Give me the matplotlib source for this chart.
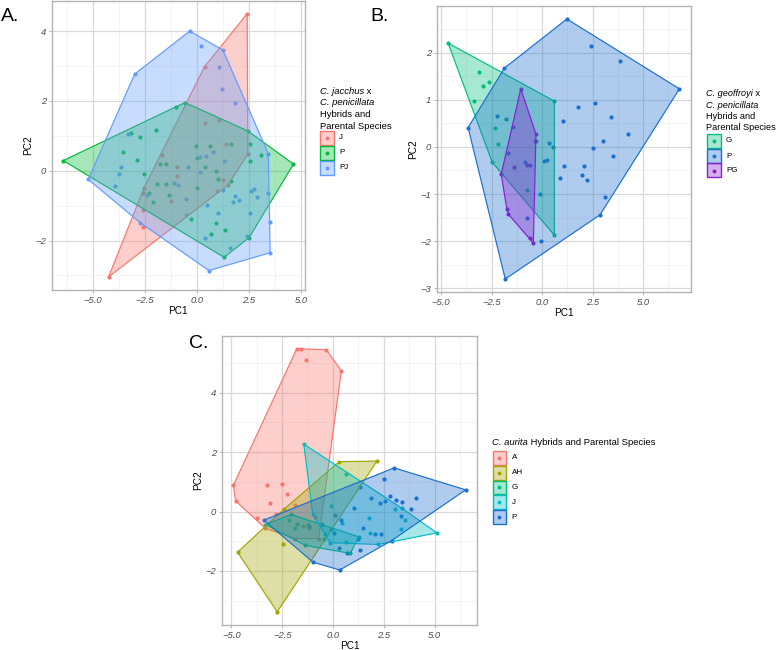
import numpy as np
import matplotlib
matplotlib.use('Agg')
import matplotlib.pyplot as plt
from matplotlib.patches import Polygon, Rectangle
from matplotlib.lines import Line2D
from matplotlib.ticker import FixedLocator, AutoMinorLocator
from matplotlib.colors import to_rgba

plt.rcParams['font.family'] = ['Liberation Sans', 'DejaVu Sans']

# ---------------- Panel A data: C. jacchus x C. penicillata ----------------
a_groups = ["J", "P", "PJ"]
a_colors = ["#F8766D", "#00BA38", "#619CFF"]
a_J_x = [2.42, 0.37, 0.41, 1.07, 1.38, 2.45, 1.25, 1.49, 0.96, -4.23, -2.53, -2.58, -2.57, -2.6, -1.65, -0.96, -0.95, -1.25]
a_J_y = [4.5, 2.98, 1.36, 1.46, 0.77, 0.47, -0.26, -0.41, -0.57, -3.04, -0.49, -0.64, -1.13, -1.62, 0.44, 0.12, -0.14, -0.86]
a_P_x = [-6.41, -1.01, -0.56, -3.17, -2.71, -1.94, -3.56, -2.86, -2.55, -2.31, -2.1, -1.76, -1.48, -1.92, -1.49, -1.33,
         -0.05, 0.64, 0.01, 0.37, 0.94, 1.01, 0.0, -0.26, 0.94, 0.67, 1.36, 1.31, 2.51, 1.63, 2.56, 2.55, 3.08, 4.64, 2.45, 1.62]
a_P_y = [0.29, 1.83, 1.95, 1.08, 0.97, 1.18, 0.53, 0.31, -0.1, -0.64, -0.9, 0.18, 0.18, -0.37, -0.37, -0.69,
         0.71, 0.71, 0.37, 0.1, -0.02, -0.23, -0.49, -1.39, -1.51, -1.81, -1.71, -2.48, -1.92, 0.78, 0.76, 0.29, 0.46, 0.19, 1.14, -0.3]
a_PJ_x = [-0.34, 0.19, 1.25, 1.07, 1.23, 1.81, -2.98, -5.21, -3.29, -3.64, -3.72, -3.93, -2.4, -2.71, -1.09, -0.88, -0.43,
          0.16, 0.43, 0.78, 0.14, 1.3, 1.26, -0.5, -0.51, 0.51, 1.01, 0.41, 1.57, 0.58, 1.75, 1.81, 2.02, 2.42, 2.55, 2.61,
          2.75, 2.87, 3.43, 3.43, 3.49, 3.52]
a_PJ_y = [4.0, 3.58, 3.46, 2.96, 2.34, 1.94, 2.77, -0.25, 1.05, 0.12, -0.09, -0.43, -0.7, -1.49, -0.35, -0.4, 0.11,
          0.39, 0.43, 0.55, -0.05, 0.28, -0.54, -0.8, -1.26, -0.98, -1.21, -1.94, -2.2, -2.86, -0.89, -0.73, -0.83, -1.88, -1.22, -0.58,
          -0.52, -0.75, 0.49, -0.63, -1.46, -2.35]
a_xticks = [-5.0, -2.5, 0.0, 2.5, 5.0]
a_xticklabels = ["\u22125.0", "\u22122.5", "0.0", "2.5", "5.0"]
a_yticks = [-2, 0, 2, 4]
a_yticklabels = ["\u22122", "0", "2", "4"]

# ---------------- Panel B data: C. geoffroyi x C. penicillata ----------------
b_groups = ["G", "P", "PG"]
b_colors = ["#00BF7D", "#1A6FD0", "#8A1ECF"]
b_G_x = [-4.65, -3.12, -2.92, -2.63, -3.38, -2.33, -2.18, -2.46, 0.61, 0.61, -0.75]
b_G_y = [2.2, 1.59, 1.3, 1.37, 0.97, 0.41, 0.06, -0.33, 0.97, -1.87, -0.92]
b_P_x = [1.23, 2.43, 3.84, 6.8, 1.79, 2.64, 1.05, 3.4, 4.24, 3.0, 2.51, 3.51, 1.08, 2.07, 1.96, 2.25, 0.89, 3.14, 2.87,
         -1.86, -3.66, -1.82, -2.25, -1.76, -1.44, -1.67, -0.82, -0.59, -0.33, 0.34, 0.53, 0.11, 0.23, -0.1, -0.75, -0.06]
b_P_y = [2.71, 2.13, 1.83, 1.23, 0.84, 0.93, 0.55, 0.63, 0.28, 0.13, -0.03, -0.2, -0.41, -0.41, -0.6, -0.7, -0.67, -1.06, -1.44,
         1.67, 0.41, -2.8, 0.66, 0.6, 0.42, -0.14, -0.33, -0.38, 0.12, 0.08, -0.01, -0.3, -0.27, -0.99, -1.51, -1.99]
b_PG_x = [-1.05, -0.3, -0.31, -2.02, -1.74, -1.66, -0.59, -0.43, -1.38, -0.72]
b_PG_y = [1.23, 0.27, 0.12, -0.58, -1.32, -1.43, -1.94, -2.04, -0.43, -0.39]
b_xticks = [-5.0, -2.5, 0.0, 2.5, 5.0]
b_xticklabels = ["\u22125.0", "\u22122.5", "0.0", "2.5", "5.0"]
b_yticks = [-3, -2, -1, 0, 1, 2]
b_yticklabels = ["\u22123", "\u22122", "\u22121", "0", "1", "2"]

# ---------------- Panel C data: C. aurita hybrids ----------------
c_groups = ["A", "AH", "G", "J", "P"]
c_colors = ["#F8766D", "#A3A500", "#00BF7D", "#00BFC4", "#1A6FD0"]
c_A_x = [-1.79, -1.57, -0.33, 0.41, -1.33, -4.91, -4.8, -3.23, -2.51, -2.29, -3.08, -3.73, -1.89, -2.8, -3.33, -1.85, -0.71]
c_A_y = [5.48, 5.48, 5.45, 4.74, 5.11, 0.88, 0.36, 0.91, 0.93, 0.58, 0.3, -0.22, 0.22, -0.1, -0.57, -0.91, -0.91]
c_AH_x = [0.31, 2.16, -2.75, -4.7, -2.43, -2.48, -1.5, -0.9]
c_AH_y = [1.68, 1.7, -3.38, -1.37, 0.07, -1.11, -0.5, -0.2]
c_G_x = [-3.33, -2.06, 1.26, 0.85, -1.36, -2.18, -1.77, -1.85, -1.23, -1.19, -0.38, -0.43]
c_G_y = [-0.44, -0.1, -0.85, -1.41, -1.14, -0.27, -0.41, -0.55, -0.44, -0.56, -0.77, -0.94]
c_J_x = [-1.44, 5.11, 2.21, -0.13, -1.0, 0.65, 3.03, 3.39, 3.34, 3.55, 1.78, 1.83, 0.46, -0.08, -0.53, 0.62]
c_J_y = [2.27, -0.72, -1.11, -1.05, -0.1, 1.27, 0.1, 0.11, -0.6, -0.3, -0.22, -0.74, -0.4, 0.2, -0.44, -1.03]
c_P_x = [-3.41, 3.01, 6.53, 0.33, -0.98, 2.88, 2.49, 2.82, 3.09, 3.39, 4.09, 3.85, 2.54, 2.32, 1.85, 1.03, 1.34, 3.34,
         1.46, 2.09, 2.37, 0.11, 0.41, 0.06, 1.23, 1.31, 0.69, 0.28, -1.2, -0.54, -0.08]
c_P_y = [-0.29, 1.47, 0.73, -1.97, -1.71, -0.98, 1.11, 0.51, 0.4, 0.31, 0.45, 0.08, 0.36, 0.28, 0.47, 0.11, 0.82, -0.14,
         -0.55, -0.77, -0.76, -0.13, -0.3, -0.72, -0.94, -1.28, -1.39, -1.22, -0.49, -0.41, -0.6]
c_xticks = [-5.0, -2.5, 0.0, 2.5, 5.0]
c_xticklabels = ["\u22125.0", "\u22122.5", "0.0", "2.5", "5.0"]
c_yticks = [-2, 0, 2, 4]
c_yticklabels = ["\u22122", "0", "2", "4"]

W, H = 778, 650
fig = plt.figure(figsize=(W / 100, H / 100), dpi=100)
renderer = fig.canvas.get_renderer()
ALPHA = 0.35


def fx(x):
    return x / W


def fy(y):
    return 1 - y / H


def add_axes_px(l, t, r, b):
    return fig.add_axes([l / W, 1 - b / H, (r - l) / W, (b - t) / H])


def convex_hull(xs, ys):
    pts = sorted(set(zip(xs, ys)))
    if len(pts) < 3:
        return pts

    def cross(o, a, b):
        return (a[0] - o[0]) * (b[1] - o[1]) - (a[1] - o[1]) * (b[0] - o[0])
    lower, upper = [], []
    for p in pts:
        while len(lower) >= 2 and cross(lower[-2], lower[-1], p) <= 0:
            lower.pop()
        lower.append(p)
    for p in reversed(pts):
        while len(upper) >= 2 and cross(upper[-2], upper[-1], p) <= 0:
            upper.pop()
        upper.append(p)
    return lower[:-1] + upper[:-1]


def draw_panel(ax, data, colors, xt, xtl, yt, ytl):
    allx = np.concatenate([np.asarray(d[0]) for d in data])
    ally = np.concatenate([np.asarray(d[1]) for d in data])
    ex = 0.05 * (allx.max() - allx.min())
    ey = 0.05 * (ally.max() - ally.min())
    ax.set_xlim(allx.min() - ex, allx.max() + ex)
    ax.set_ylim(ally.min() - ey, ally.max() + ey)
    for (xs, ys), c in zip(data, colors):
        ax.scatter(xs, ys, s=9, color=c, linewidths=0, zorder=2)
    for (xs, ys), c in zip(data, colors):
        hull = convex_hull(xs, ys)
        ax.add_patch(Polygon(hull, closed=True, facecolor=to_rgba(c, ALPHA),
                             edgecolor=c, linewidth=0.85, zorder=3))
    ax.xaxis.set_major_locator(FixedLocator(xt))
    ax.yaxis.set_major_locator(FixedLocator(yt))
    ax.set_xticklabels(xtl, fontstyle='italic', color='#4D4D4D', fontsize=6.8)
    ax.set_yticklabels(ytl, fontstyle='italic', color='#4D4D4D', fontsize=6.8)
    ax.xaxis.set_minor_locator(AutoMinorLocator(2))
    ax.yaxis.set_minor_locator(AutoMinorLocator(2))
    ax.grid(which='major', color='#D9D9D9', linewidth=0.9, zorder=0)
    ax.grid(which='minor', color='#EEEEEE', linewidth=0.5, zorder=0)
    ax.set_axisbelow(True)
    ax.tick_params(which='major', length=2.5, width=0.7, color='#B3B3B3', pad=1.5)
    ax.tick_params(which='minor', length=0)
    for s in ax.spines.values():
        s.set_color('#B3B3B3')
        s.set_linewidth(1.0)
    ax.set_xlabel('PC1', fontsize=7.2, labelpad=1.0)
    ax.set_ylabel('PC2', fontsize=7.2, labelpad=1.5)


def mixed_text(x_px, y_px, parts, size):
    """Write a line made of (text, style) parts, starting at x_px with baseline y_px."""
    cur = x_px
    for txt, style in parts:
        t = fig.text(fx(cur), fy(y_px), txt, fontsize=size, fontstyle=style, ha='left', va='baseline')
        cur += t.get_window_extent(renderer=renderer).width


def draw_legend(title_lines, title_x, title_y0, line_h, tsize, groups, colors, box_x, box_tops, box_w, box_h, label_x):
    for i, parts in enumerate(title_lines):
        mixed_text(title_x, title_y0 + i * line_h, parts, tsize)
    for g, c, top in zip(groups, colors, box_tops):
        rect = Rectangle((fx(box_x), fy(top + box_h)), box_w / W, box_h / H, transform=fig.transFigure,
                         facecolor=to_rgba(c, ALPHA), edgecolor=c, linewidth=1.0)
        fig.add_artist(rect)
        fig.add_artist(Line2D([fx(box_x + box_w / 2)], [fy(top + box_h / 2)], transform=fig.transFigure,
                              marker='o', markersize=2.8, color=c, markeredgewidth=0))
        fig.text(fx(label_x), fy(top + box_h / 2), g, fontsize=5.8, ha='left', va='center')


# Panel A
axA = add_axes_px(51.7, 0.5, 305, 290)
draw_panel(axA, [(a_J_x, a_J_y), (a_P_x, a_P_y), (a_PJ_x, a_PJ_y)], a_colors,
           a_xticks, a_xticklabels, a_yticks, a_yticklabels)
# Panel B
axB = add_axes_px(436.5, 6, 691, 292)
draw_panel(axB, [(b_G_x, b_G_y), (b_P_x, b_P_y), (b_PG_x, b_PG_y)], b_colors,
           b_xticks, b_xticklabels, b_yticks, b_yticklabels)
# Panel C
axC = add_axes_px(221.7, 335.7, 477.3, 625)
draw_panel(axC, [(c_A_x, c_A_y), (c_AH_x, c_AH_y), (c_G_x, c_G_y), (c_J_x, c_J_y), (c_P_x, c_P_y)], c_colors,
           c_xticks, c_xticklabels, c_yticks, c_yticklabels)

# Panel letters
fig.text(fx(0.5), fy(21), 'A.', fontsize=14, ha='left', va='baseline')
fig.text(fx(370), fy(21), 'B.', fontsize=14, ha='left', va='baseline')
fig.text(fx(189), fy(348), 'C.', fontsize=14, ha='left', va='baseline')

# Legends
draw_legend([[('C. jacchus', 'italic'), (' x', 'normal')],
             [('C. penicillata', 'italic')],
             [('Hybrids and', 'normal')],
             [('Parental Species', 'normal')]],
            319.5, 93.5, 11.7, 6.8, a_groups, a_colors, 319.5, [130.5, 145.5, 160.5], 14.5, 14, 339)
draw_legend([[('C. geoffroyi', 'italic'), (' x', 'normal')],
             [('C. penicillata', 'italic')],
             [('Hybrids and', 'normal')],
             [('Parental Species', 'normal')]],
            706.5, 96.5, 11.3, 6.6, b_groups, b_colors, 706.5, [134, 149, 163.5], 14, 14, 726)
draw_legend([[('C. aurita', 'italic'), (' Hybrids and Parental Species', 'normal')]],
            492.5, 445, 11.5, 6.8, c_groups, c_colors, 492.7, [450.7, 465.7, 480.5, 495.3, 510.2], 13.5, 13.8, 511.7)

fig.savefig('out.png', dpi=100)
